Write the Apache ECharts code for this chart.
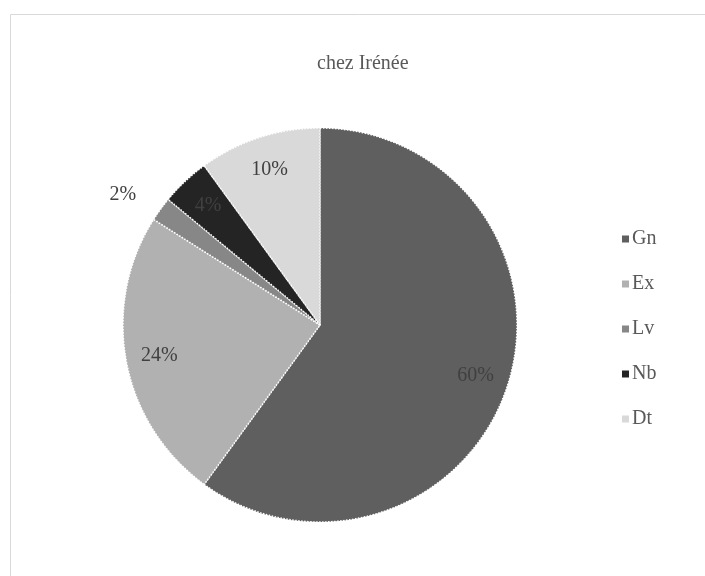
<!DOCTYPE html>
<html>
<head>
<meta charset="utf-8">
<script src="https://cdn.jsdelivr.net/npm/echarts@6/dist/echarts.min.js"></script>
<style>
  html, body { margin: 0; padding: 0; background: #fff; }
  #chartBox { width: 705px; height: 576px; }
</style>
</head>
<body>
<div id="chartBox"></div>
<script>
var categories = ['Gn', 'Ex', 'Lv', 'Nb', 'Dt'];
var shares = [60, 24, 2, 4, 10];
var sliceColors = ['#5f5f5f', '#b1b1b1', '#878787', '#242424', '#d9d9d9'];

var serifFont = '"Liberation Serif", "DejaVu Serif", serif';

function loadPieChart(myChart) {
	var pieData = [];
	var labelData = [];
	for (var i = 0; i < categories.length; i++) {
		pieData.push({
			name: categories[i],
			value: shares[i],
			itemStyle: { color: sliceColors[i] }
		});
		var d = { name: categories[i], value: shares[i] };
		if (categories[i] == 'Lv') {
			d.label = { position: 'outside' };
			d.labelLine = { show: false, length: 24, length2: 0 };
		}
		labelData.push(d);
	}

	var option = {
		animation: false,
		title: {
			text: 'chez Irénée',
			left: 312,
			top: 49,
			textStyle: {
				fontFamily: serifFont,
				fontWeight: 'normal',
				fontSize: 20,
				color: '#595959'
			}
		},
		legend: {
			orient: 'vertical',
			left: 615,
			top: 224,
			icon: 'rect',
			itemWidth: 9,
			itemHeight: 9,
			itemGap: 25,
			data: categories,
			textStyle: {
				fontFamily: serifFont,
				fontSize: 20,
				color: '#595959',
				padding: [0, 0, 0, -3]
			}
		},
		graphic: [{
			type: 'rect',
			left: 8,
			top: 12,
			shape: { width: 720, height: 600 },
			style: { fill: 'none', stroke: '#d9d9d9', lineWidth: 1 },
			silent: true,
			z: -10
		}],
		series: [{
			type: 'pie',
			center: [320, 325],
			radius: [0, 197],
			startAngle: 90,
			clockwise: true,
			label: { show: false },
			labelLine: { show: false },
			itemStyle: {
				borderColor: '#ffffff',
				borderWidth: 1.5,
				borderType: 'dotted'
			},
			emphasis: { disabled: true },
			data: pieData
		}, {
			// transparent ring only used to place the percent labels
			type: 'pie',
			center: [320, 325],
			radius: [124, 197],
			startAngle: 90,
			clockwise: true,
			silent: true,
			avoidLabelOverlap: false,
			itemStyle: { color: 'rgba(0,0,0,0)' },
			label: {
				show: true,
				position: 'inner',
				formatter: '{c}%',
				fontFamily: serifFont,
				fontSize: 20,
				color: '#404040'
			},
			labelLine: { show: false },
			emphasis: { disabled: true },
			data: labelData
		}]
	};
	myChart.setOption(option);
}

var myChart = echarts.init(document.getElementById('chartBox'));
loadPieChart(myChart);
</script>
</body>
</html>
